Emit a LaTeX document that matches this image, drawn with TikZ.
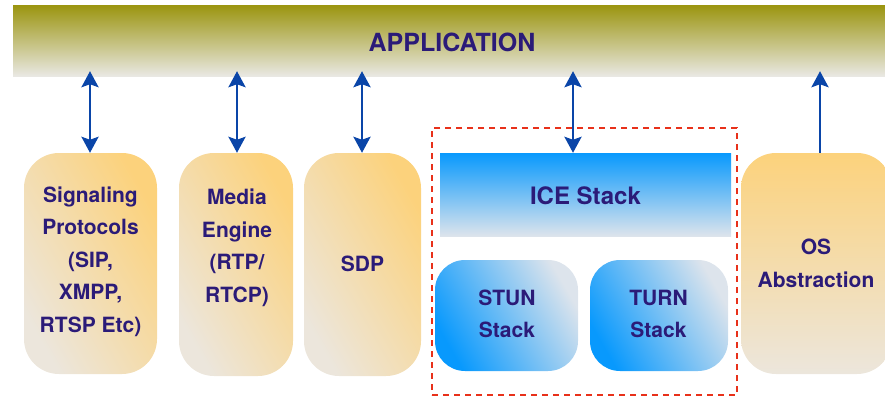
\documentclass[tikz,border=0pt]{standalone}
\usepackage{fontspec}
\setmainfont{TeX Gyre Heros}
\usetikzlibrary{arrows.meta}
\definecolor{txt}{RGB}{43,27,120}
\definecolor{olive}{RGB}{156,150,18}
\definecolor{appbot}{RGB}{233,232,227}
\definecolor{orng}{RGB}{252,210,124}
\definecolor{beige}{RGB}{236,230,220}
\definecolor{blu}{RGB}{8,153,253}
\definecolor{lblu}{RGB}{221,228,236}
\definecolor{arrc}{RGB}{10,69,168}
\definecolor{redd}{RGB}{232,49,26}
\tikzset{
  lbl/.style={text=txt, font=\bfseries\fontsize{21}{32.5}\selectfont, align=center},
  obox/.style={draw=none, rounded corners=35pt, inner sep=0pt},
  arr/.style={draw=arrc, line width=2.8pt, -{Stealth[length=16pt,width=17pt,inset=3pt]}},
  darr/.style={draw=arrc, line width=2.8pt, {Stealth[length=16pt,width=17pt,inset=3pt]}-{Stealth[length=16pt,width=17pt,inset=3pt]}},
}
\begin{document}
\begin{tikzpicture}[x=1pt,y=-1pt]
\clip (0,0) rectangle (885,396);
\useasboundingbox (0,0) rectangle (885,396);
% application bar
\node[draw=none, inner sep=0pt, minimum width=873pt, minimum height=70pt,
      top color=olive, bottom color=appbot] (app) at (449.5,41) {};
\node[lbl, font=\bfseries\fontsize{25}{30}\selectfont] (appT) at (452,42) {APPLICATION};
% dashed frame
\node[draw=redd, line width=2.6pt, dash pattern=on 6pt off 5pt, minimum width=305pt, minimum height=267pt, inner sep=0pt] (frame) at (584.5,261.5) {};
% boxes
\node[obox, minimum width=133pt, minimum height=221pt,
      top color=orng, bottom color=beige, shading angle=-60] (sig) at (90.5,263.5) {};
\node[lbl] (sigT) at (90.5,261.5) {Signaling\\Protocols\\(SIP,\\XMPP,\\RTSP Etc)};
\node[obox, minimum width=114pt, minimum height=223pt,
      top color=orng, bottom color=beige, shading angle=-60] (med) at (236,264.5) {};
\node[lbl] (medT) at (237,248) {Media\\Engine\\(RTP/\\RTCP)};
\node[obox, minimum width=117pt, minimum height=223pt,
      top color=orng, bottom color=beige, shading angle=-60] (sdp) at (362.5,264.5) {};
\node[lbl] (sdpT) at (362.5,264) {SDP};
\node[draw=none, inner sep=0pt, minimum width=291pt, minimum height=83pt,
      top color=blu, bottom color=lblu] (ice) at (585.5,194.5) {};
\node[lbl, font=\bfseries\fontsize{24}{30}\selectfont] (iceT) at (585.5,196) {ICE Stack};
\node[obox, rounded corners=30pt, minimum width=143pt, minimum height=111pt,
      top color=lblu, bottom color=blu, shading angle=-60] (stun) at (506.5,315.5) {};
\node[lbl] (stunT) at (507,314) {STUN\\Stack};
\node[obox, rounded corners=30pt, minimum width=138pt, minimum height=111pt,
      top color=lblu, bottom color=blu, shading angle=-60] (turn) at (659,315.5) {};
\node[lbl] (turnT) at (658.5,314) {TURN\\Stack};
\node[obox, minimum width=151pt, minimum height=221pt,
      top color=orng, bottom color=beige] (os) at (816.5,263.5) {};
\node[lbl] (osT) at (816,263.5) {OS\\Abstraction};
% arrows
\draw[darr, shorten <=-5pt] ([xshift=-0.5pt]app.south -| sig.north) -- ([xshift=-0.5pt]sig.north);
\draw[darr, shorten <=-5pt] ([xshift=1pt]app.south -| med.north) -- ([xshift=1pt]med.north);
\draw[darr, shorten <=-5pt] ([xshift=-0.5pt]app.south -| sdp.north) -- ([xshift=-0.5pt]sdp.north);
\draw[darr, shorten <=-5pt] ([xshift=-12.5pt]app.south -| ice.north) -- ([xshift=-12.5pt]ice.north);
\draw[arr, shorten >=-5pt] ([xshift=3.5pt]os.north) -- ([xshift=3.5pt]app.south -| os.north);
\end{tikzpicture}
\end{document}
